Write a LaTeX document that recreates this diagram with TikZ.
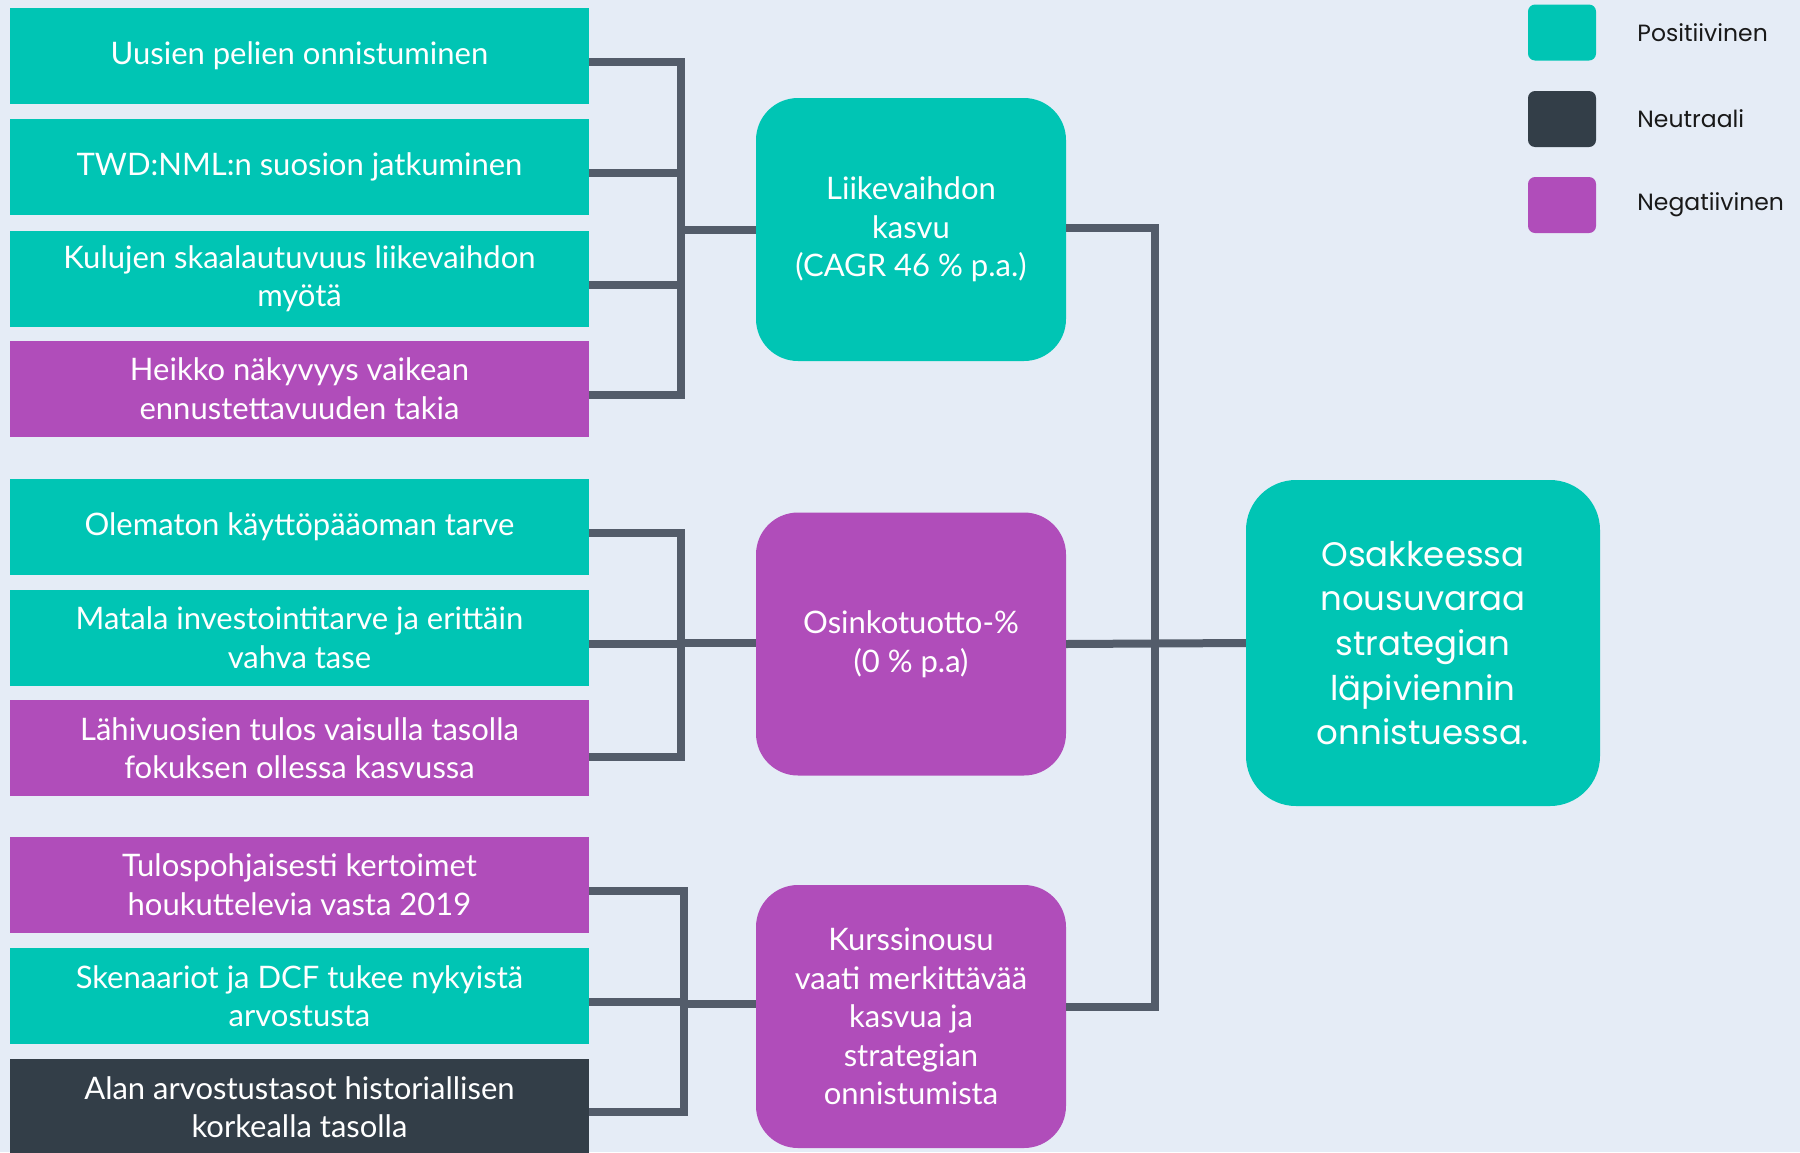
\documentclass[tikz,border=0pt]{standalone}
\usepackage{fontspec}
\setmainfont{Lato}
\newfontfamily\legendfont{Poppins}
\usetikzlibrary{positioning,calc}
\definecolor{posgreen}{HTML}{00C5B4}
\definecolor{negpurple}{HTML}{B04DBA}
\definecolor{neutgray}{HTML}{333E48}
\definecolor{wiregray}{HTML}{535C6A}
\definecolor{bgblue}{HTML}{E5ECF6}

\begin{document}
\begin{tikzpicture}[x=1pt,y=-1pt]

        % Setup the styles for the boxes
        \tikzset{factor/.style={rectangle,
                                minimum width=579pt,
                                minimum height=96pt,
                                inner sep=0pt,
                                align=center,
                                text=white,
                                font=\fontsize{31}{38.5}\selectfont},
                 driver/.style={rectangle,
                                rounded corners=42pt,
                                minimum width=310pt,
                                minimum height=263pt,
                                inner sep=0pt,
                                align=center,
                                text=white,
                                font=\fontsize{31}{38.5}\selectfont},
                 swatch/.style={rectangle,
                                rounded corners=7pt,
                                minimum width=68pt,
                                minimum height=56pt,
                                inner sep=0pt},
                 legend text/.style={inner sep=0pt,
                                     text=black!90,
                                     font=\legendfont\fontsize{23.5}{28}\selectfont},
                 wire/.style={draw=wiregray, line width=8pt}}

        \useasboundingbox (0,0) rectangle (1800,1152);
        \fill[bgblue] (0,0) rectangle (1800,1152);

        % Draw the factors
        \node[factor,fill=posgreen] at (299.5, 56)     (u1)     {Uusien pelien onnistuminen};
        \node[factor,fill=posgreen] at (299.5, 167)    (u2)     {TWD:NML:n suosion jatkuminen};
        \node[factor,fill=posgreen] at (299.5, 278.5)  (u3)     {Kulujen skaalautuvuus liikevaihdon\\myötä};
        \node[factor,fill=negpurple] at (299.5, 388.5) (u4)     {Heikko näkyvyys vaikean\\ennustettavuuden takia};

        \node[factor,fill=posgreen] at (299.5, 526.5)  (o1)     {Olematon käyttöpääoman tarve};
        \node[factor,fill=posgreen] at (299.5, 637.5)  (o2)     {Matala investointitarve ja erittäin\\vahva tase};
        \node[factor,fill=negpurple] at (299.5, 748)   (o3)     {Lähivuosien tulos vaisulla tasolla\\fokuksen ollessa kasvussa};

        \node[factor,fill=negpurple] at (299.5, 884.5) (k1)     {Tulospohjaisesti kertoimet\\houkuttelevia vasta 2019};
        \node[factor,fill=posgreen] at (299.5, 996)    (k2)     {Skenaariot ja DCF tukee nykyistä\\arvostusta};
        \node[factor,fill=neutgray] at (299.5, 1107)   (k3)     {Alan arvostustasot historiallisen\\korkealla tasolla};

        % Draw the drivers and the result
        \node[driver,fill=posgreen] at (911, 229.5)    (lv)     {Liikevaihdon\\kasvu\\(CAGR 46 \% p.a.)};
        \node[driver,fill=negpurple] at (911, 644)     (os)     {Osinkotuotto-\%\\(0 \% p.a)};
        \node[driver,fill=negpurple] at (911, 1016.5)  (ku)     {Kurssinousu\\vaati merkittävää\\kasvua ja\\strategian\\onnistumista};
        \node[driver,fill=posgreen,minimum width=354pt,minimum height=326pt,rounded corners=50pt,
              font=\legendfont\fontsize{34}{44.6}\selectfont] at (1423, 643) (tulos) {Osakkeessa\\nousuvaraa\\strategian\\läpiviennin\\onnistuessa.};

        % Legend
        \node[swatch,fill=posgreen] at (1562, 32.5)    (lpos)   {};
        \node[swatch,fill=neutgray] at (1562, 119)     (lneu)   {};
        \node[swatch,fill=negpurple] at (1562, 205)    (lneg)   {};
        \node[legend text,right=41pt of lpos]          (tpos)   {Positiivinen};
        \node[legend text,right=41pt of lneu]          (tneu)   {Neutraali};
        \node[legend text,right=41pt of lneg]          (tneg)   {Negatiivinen};

        % Connect the boxes
        \coordinate (bus1) at (681, 230);
        \coordinate (bus2) at (681, 643);
        \coordinate (bus3) at (684, 1004);
        \coordinate (join) at (1155, 644);

        \draw[wire] ([yshift=-6pt]u1.east) -| (bus1);
        \draw[wire] ([yshift=-6pt]u2.east) -| (bus1);
        \draw[wire] ([yshift=-6pt]u3.east) -| (bus1);
        \draw[wire] ([yshift=-6pt]u4.east) -| (bus1);
        \draw[wire] (bus1) -- (bus1 -| lv.west);

        \draw[wire] ([yshift=-6pt]o1.east) -| (bus2);
        \draw[wire] ([yshift=-6pt]o2.east) -| (bus2);
        \draw[wire] ([yshift=-9pt]o3.east) -| (bus2);
        \draw[wire] (bus2) -- (bus2 -| os.west);

        \draw[wire] ([yshift=-6pt]k1.east) -| (bus3);
        \draw[wire] ([yshift=-6pt]k2.east) -| (bus3);
        \draw[wire] ([yshift=-5pt]k3.east) -| (bus3);
        \draw[wire] (bus3) -- (bus3 -| ku.west);

        \draw[wire] ([yshift=2pt]lv.east) -| (join);
        \draw[wire] ([yshift=10pt]ku.east) -| (join);
        \draw[wire] (os.east) -- (tulos.west);
    \end{tikzpicture}
\end{document}
